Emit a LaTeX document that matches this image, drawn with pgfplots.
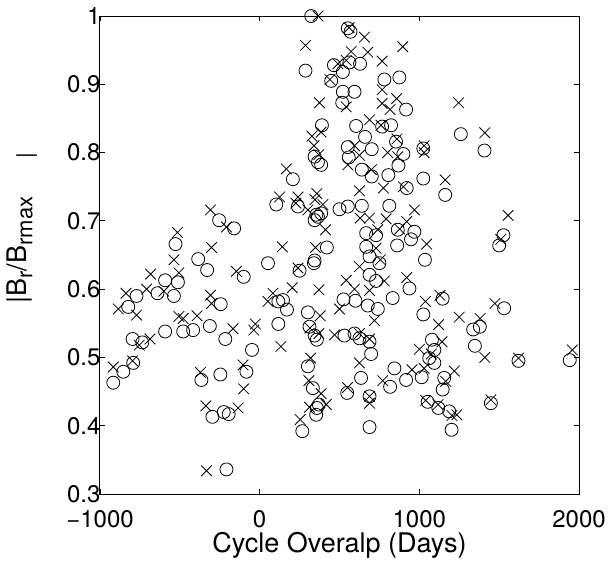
\documentclass[border=0pt]{standalone}
\usepackage{fontspec}
\setmainfont{TeX Gyre Heros}
\usepackage{pgfplots}
\pgfplotsset{compat=1.18}
\newcommand{\sub}[1]{\raisebox{-6pt}{\fontsize{22}{22}\selectfont #1}}
\begin{document}
\begin{tikzpicture}
\begin{axis}[
  at={(0pt,0pt)}, anchor=south west,
  scale only axis, width=479pt, height=478pt,
  xmin=-1000, xmax=2000, ymin=0.3, ymax=1,
  xtick={-1000,0,1000,2000}, xticklabels={−1000,0,1000,2000},
  ytick={0.3,0.4,0.5,0.6,0.7,0.8,0.9,1}, yticklabels={0.3,0.4,0.5,0.6,0.7,0.8,0.9,1},
  tick align=inside, major tick length=5pt,
  axis line style={line width=1pt}, every tick/.style={line width=0.8pt, black},
  tick label style={font=\fontsize{24}{28}\selectfont},
  xticklabel style={anchor=base, yshift=-33pt},
  yticklabel style={xshift=4pt},
  label style={font=\fontsize{27}{30}\selectfont},
  xlabel={Cycle Overalp (Days)},
  ylabel={|B\sub{r}/B\sub{rmax}\hspace{38pt}\sub{|}},
  xlabel style={at={(axis description cs:0.5,0)}, anchor=base, yshift=-58pt},
  ylabel style={at={(axis description cs:-0.163,0.556)}, anchor=center},
  clip=false,
]
\addplot[only marks, mark=o, mark size=6.5pt, mark options={line width=0.8pt, black}] coordinates {
(-917,0.463) (-854,0.479) (-823,0.574) (-771,0.590) (-796,0.527) (-735,0.522) (-792,0.492) (-640,0.594)
(-592,0.613) (-537,0.590) (-512,0.610) (-592,0.538) (-479,0.538) (-417,0.540) (-385,0.644) (-329,0.628)
(-244,0.578) (-312,0.546) (-215,0.527) (-365,0.467) (-246,0.475) (-296,0.413) (-225,0.420) (-194,0.417)
(-208,0.336) (-83,0.479) (-48,0.511) (-100,0.618) (-527,0.666) (-254,0.701) (-160,0.689)
(52,0.638) (117,0.582) (146,0.584) (171,0.570) (117,0.549) (250,0.627) (340,0.638) (344,0.642)
(302,0.566) (312,0.545) (344,0.532) (358,0.526) (333,0.455) (302,0.487) (371,0.431) (358,0.426)
(354,0.416) (267,0.392) (323,1.000) (287,0.920) (208,0.761) (104,0.724) (240,0.721) (344,0.701)
(365,0.706) (385,0.711) (355,0.709) (421,0.661) (390,0.840) (344,0.794) (365,0.786) (385,0.782)
(465,0.928) (448,0.905) (552,0.982) (569,0.977) (562,0.932) (629,0.930) (521,0.918) (781,0.907)
(875,0.910) (521,0.889) (594,0.889) (517,0.873) (917,0.863) (604,0.839) (767,0.838) (823,0.840)
(660,0.823) (552,0.808) (558,0.793) (702,0.805) (854,0.816) (900,0.798) (869,0.781) (1025,0.806)
(640,0.775) (702,0.765) (806,0.767) (1025,0.762) (1162,0.738) (921,0.748) (500,0.717) (552,0.721)
(640,0.722) (812,0.722) (865,0.687) (969,0.684) (948,0.673) (861,0.664) (667,0.682) (729,0.679)
(667,0.662) (688,0.648) (750,0.638) (1035,0.643) (1527,0.679) (1500,0.664) (1260,0.827) (1408,0.803)
(688,0.621) (729,0.612) (938,0.601) (833,0.587) (525,0.585) (600,0.583) (677,0.576) (740,0.571)
(1025,0.563) (1146,0.586) (1531,0.572) (1337,0.541) (1379,0.545) (1348,0.517) (1621,0.495) (1942,0.496)
(531,0.532) (594,0.535) (625,0.528) (688,0.523) (698,0.505) (635,0.470) (548,0.448) (688,0.443)
(688,0.398) (844,0.484) (817,0.457) (917,0.467) (1015,0.471) (1079,0.526) (1094,0.511) (1062,0.499)
(1094,0.492) (1156,0.470) (1146,0.453) (1052,0.435) (1119,0.426) (1187,0.421) (1202,0.394) (1448,0.433)
};
\addplot[only marks, mark=x, mark size=7.5pt, mark options={line width=0.8pt, black}] coordinates {
(-917,0.486) (-885,0.571) (-837,0.594) (-771,0.562) (-754,0.518) (-687,0.527) (-796,0.495) (-708,0.600)
(-683,0.622) (-600,0.597) (-537,0.643) (-506,0.624) (-506,0.560) (-479,0.557) (-392,0.561) (-308,0.591)
(-302,0.579) (-167,0.542) (-371,0.478) (-337,0.429) (-135,0.426) (-333,0.334) (-104,0.489) (-100,0.454)
(-27,0.549) (-37,0.540) (-146,0.626) (-308,0.716) (-208,0.691) (-515,0.683) (-302,0.661)
(52,0.582) (83,0.594) (133,0.516) (204,0.602) (240,0.631) (371,0.599) (379,0.561) (315,0.543)
(371,0.535) (469,0.533) (542,0.613) (500,0.571) (319,0.499) (308,0.466) (385,0.447) (417,0.431)
(312,0.427) (254,0.409) (550,0.456) (365,1.000) (287,0.957) (440,0.907) (490,0.930) (375,0.873)
(385,0.830) (327,0.824) (340,0.810) (370,0.797) (167,0.776) (125,0.735) (240,0.735) (227,0.726)
(358,0.740) (346,0.731) (302,0.716) (396,0.724) (412,0.687) (350,0.661) (142,0.662)
(560,0.983) (656,0.969) (896,0.955) (573,0.948) (677,0.947) (767,0.934) (542,0.935) (767,0.892)
(542,0.867) (767,0.872) (858,0.879) (817,0.863) (688,0.848) (760,0.840) (594,0.810) (625,0.796)
(552,0.782) (860,0.820) (802,0.800) (865,0.794) (1030,0.810) (1030,0.800) (700,0.775) (1162,0.760)
(625,0.744) (775,0.748) (900,0.750) (969,0.716) (629,0.704) (688,0.704) (792,0.703) (921,0.699)
(877,0.688) (740,0.687) (729,0.660) (756,0.643) (625,0.633) (1046,0.666) (1556,0.708) (1510,0.673)
(1246,0.873) (1410,0.829) (594,0.600) (688,0.598) (781,0.612) (921,0.617) (719,0.554) (1038,0.582)
(1129,0.591) (1121,0.548) (1250,0.559) (1473,0.579) (1381,0.557) (1410,0.500) (1621,0.499) (1958,0.511)
(625,0.535) (688,0.527) (625,0.492) (688,0.443) (688,0.433) (771,0.466) (954,0.482) (1030,0.484)
(1000,0.512) (1142,0.523) (1075,0.505) (1219,0.480) (1165,0.465) (1040,0.437) (1117,0.431) (1204,0.415)
(1235,0.416) (1448,0.438)
};
\end{axis}
\pgfresetboundingbox
\path[use as bounding box] (-100pt,-66pt) rectangle (510pt,494pt);
\end{tikzpicture}
\end{document}
